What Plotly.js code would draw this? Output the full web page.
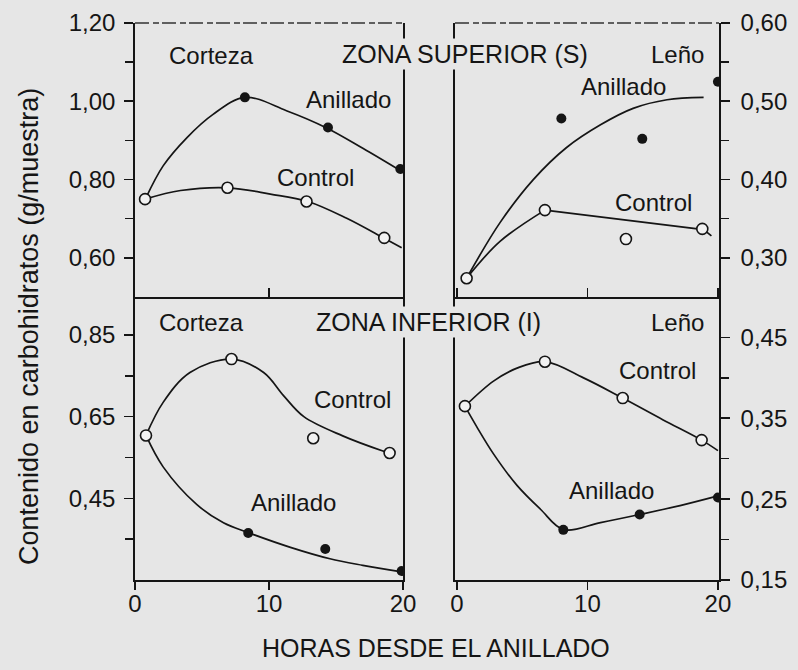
<!DOCTYPE html>
<html>
<head>
<meta charset="utf-8">
<script src="https://cdn.plot.ly/plotly-3.0.1.min.js"></script>
<style>html,body{margin:0;padding:0;background:#e6e6e6;}#chart{width:798px;height:670px;}</style>
</head>
<body>
<div id="chart"></div>
<script>
// ---------- DATA ----------
// Zona superior, Corteza (left axis, g/muestra)
const supCortezaAnilladoHoras = [0.75, 8.2, 14.4, 19.8];
const supCortezaAnilladoValor = [0.75, 1.01, 0.933, 0.827];
const supCortezaAnilladoCurvaHoras = [0.8, 2.1, 3.9, 5.8, 8.2, 11.3, 14.3, 17.0, 19.8];
const supCortezaAnilladoCurvaValor = [0.752, 0.835, 0.908, 0.966, 1.01, 0.976, 0.932, 0.88, 0.823];
const supCortezaControlHoras = [0.75, 6.9, 12.8, 18.6];
const supCortezaControlValor = [0.75, 0.779, 0.744, 0.651];
const supCortezaControlCurvaHoras = [0.75, 3.4, 6.96, 10.1, 12.9, 15.8, 18.7, 19.9];
const supCortezaControlCurvaValor = [0.75, 0.772, 0.779, 0.763, 0.744, 0.701, 0.648, 0.626];

// Zona superior, Leño (right axis)
const supLenoAnilladoHoras = [0.74, 8.0, 14.2, 20.0];
const supLenoAnilladoValor = [0.274, 0.478, 0.452, 0.525];
const supLenoAnilladoCurvaHoras = [0.74, 3.3, 5.85, 8.4, 11.0, 13.5, 16.1, 18.9];
const supLenoAnilladoCurvaValor = [0.274, 0.345, 0.40, 0.441, 0.47, 0.491, 0.502, 0.505];
const supLenoControlHoras = [0.74, 6.74, 12.95, 18.8];
const supLenoControlValor = [0.274, 0.361, 0.324, 0.337];
const supLenoControlCurvaHoras = [0.74, 3.3, 6.74];
const supLenoControlCurvaValor = [0.274, 0.321, 0.361];
const supLenoControlRectaHoras = [6.74, 12.75, 18.9, 19.5];
const supLenoControlRectaValor = [0.361, 0.349, 0.336, 0.328];

// Zona inferior, Corteza (left axis)
const infCortezaControlHoras = [0.82, 7.2, 13.3, 19.0];
const infCortezaControlValor = [0.604, 0.791, 0.597, 0.561];
const infCortezaControlCurvaHoras = [0.82, 2.1, 4.1, 7.2, 9.6, 11.1, 12.6, 15.5, 18.5, 19.0];
const infCortezaControlCurvaValor = [0.604, 0.685, 0.758, 0.791, 0.758, 0.701, 0.65, 0.603, 0.566, 0.561];
const infCortezaAnilladoHoras = [0.82, 8.45, 14.2, 19.9];
const infCortezaAnilladoValor = [0.604, 0.365, 0.326, 0.272];
const infCortezaAnilladoCurvaHoras = [0.82, 2.1, 4.6, 6.6, 8.45, 11.6, 14.55, 17.0, 19.9];
const infCortezaAnilladoCurvaValor = [0.604, 0.527, 0.435, 0.39, 0.366, 0.33, 0.302, 0.286, 0.27];

// Zona inferior, Leño (right axis)
const infLenoControlHoras = [0.61, 6.74, 12.7, 18.75];
const infLenoControlValor = [0.365, 0.42, 0.375, 0.323];
const infLenoControlCurvaHoras = [0.61, 2.8, 4.6, 6.74, 9.7, 12.7, 15.8, 18.75, 20.0];
const infLenoControlCurvaValor = [0.365, 0.396, 0.412, 0.42, 0.40, 0.375, 0.348, 0.323, 0.31];
const infLenoAnilladoHoras = [0.61, 8.15, 14.0, 20.0];
const infLenoAnilladoValor = [0.365, 0.212, 0.231, 0.252];
const infLenoAnilladoCurvaHoras = [0.61, 1.5, 2.8, 4.6, 6.4, 8.15, 11.0, 14.0, 17.1, 20.0];
const infLenoAnilladoCurvaValor = [0.365, 0.34, 0.306, 0.267, 0.2375, 0.2125, 0.221, 0.231, 0.242, 0.254];

// Tick labels
const horasTicks = [0, 10, 20];
const supIzqTicks = [0.60, 0.80, 1.00, 1.20];
const supIzqMinor = [0.70, 0.90, 1.10];
const supDerTicks = [0.30, 0.40, 0.50, 0.60];
const supDerMinor = [0.35, 0.45, 0.55];
const infIzqTicks = [0.45, 0.65, 0.85];
const infIzqMinor = [0.35, 0.55, 0.75];
const infDerTicks = [0.15, 0.25, 0.35, 0.45];
const infDerMinor = [0.20, 0.30, 0.40];

// ---------- STYLE ----------
const W = 798, H = 670;
const fx = p => p / W;
const fy = p => 1 - p / H;
const BG = '#e6e6e6';
const INK = '#151515';
const FONT = 'Liberation Sans, Arial, sans-serif';

function curve(x, y, xa, ya, shape) {
  return {x: x, y: y, xaxis: xa, yaxis: ya, mode: 'lines', hoverinfo: 'skip',
    line: {color: INK, width: 1.7, shape: shape || 'spline', smoothing: 1}};
}
function filled(x, y, xa, ya) {
  return {x: x, y: y, xaxis: xa, yaxis: ya, mode: 'markers',
    marker: {color: INK, size: 10, line: {width: 0}}};
}
function open(x, y, xa, ya) {
  return {x: x, y: y, xaxis: xa, yaxis: ya, mode: 'markers',
    marker: {color: '#f2f2f2', size: 11, line: {color: INK, width: 1.6}}};
}

const data = [
  curve(supCortezaAnilladoCurvaHoras, supCortezaAnilladoCurvaValor, 'x', 'y'),
  curve(supCortezaControlCurvaHoras, supCortezaControlCurvaValor, 'x', 'y'),
  filled(supCortezaAnilladoHoras, supCortezaAnilladoValor, 'x', 'y'),
  open(supCortezaControlHoras, supCortezaControlValor, 'x', 'y'),

  curve(supLenoAnilladoCurvaHoras, supLenoAnilladoCurvaValor, 'x2', 'y2'),
  curve(supLenoControlCurvaHoras, supLenoControlCurvaValor, 'x2', 'y2'),
  curve(supLenoControlRectaHoras, supLenoControlRectaValor, 'x2', 'y2', 'linear'),
  filled(supLenoAnilladoHoras, supLenoAnilladoValor, 'x2', 'y2'),
  open(supLenoControlHoras, supLenoControlValor, 'x2', 'y2'),

  curve(infCortezaControlCurvaHoras, infCortezaControlCurvaValor, 'x3', 'y3'),
  curve(infCortezaAnilladoCurvaHoras, infCortezaAnilladoCurvaValor, 'x3', 'y3'),
  filled(infCortezaAnilladoHoras, infCortezaAnilladoValor, 'x3', 'y3'),
  open(infCortezaControlHoras, infCortezaControlValor, 'x3', 'y3'),

  curve(infLenoControlCurvaHoras, infLenoControlCurvaValor, 'x4', 'y4'),
  curve(infLenoAnilladoCurvaHoras, infLenoAnilladoCurvaValor, 'x4', 'y4'),
  filled(infLenoAnilladoHoras, infLenoAnilladoValor, 'x4', 'y4'),
  open(infLenoControlHoras, infLenoControlValor, 'x4', 'y4')
];

const axLine = {showline: true, linecolor: INK, linewidth: 1.8, showgrid: false, zeroline: false,
  tickcolor: INK, tickwidth: 1.6, tickfont: {family: FONT, size: 24, color: INK}, fixedrange: true};

function xTop(domain, range, anchor) {
  return Object.assign({}, axLine, {domain: domain, range: range, anchor: anchor,
    tickmode: 'array', tickvals: horasTicks, ticks: 'inside', ticklen: 9, showticklabels: false});
}
function xBottom(domain, range, anchor) {
  return Object.assign({}, axLine, {domain: domain, range: range, anchor: anchor,
    tickmode: 'array', tickvals: horasTicks, ticks: 'outside', ticklen: 8, ticklabelstandoff: -7});
}
function yAxis(domain, range, anchor, side, vals, minor) {
  return Object.assign({}, axLine, {domain: domain, range: range, anchor: anchor, side: side,
    mirror: true, tickmode: 'array', tickvals: vals, tickformat: '.2f', ticks: 'outside', ticklen: 9,
    ticklabelstandoff: side === 'left' ? 4 : 6,
    minor: {tickmode: 'array', tickvals: minor, ticks: 'outside', ticklen: 8, tickcolor: INK, tickwidth: 1.4, showgrid: false}});
}

const dxL = [fx(135), fx(403)], dxR = [fx(455), fx(719)];
const dyT = [fy(297), fy(23)], dyB = [fy(580), fy(297)];
const rxL = [0, 20], rxR = [-0.15, 20.08];

function note(text, px, py, size, extra) {
  return Object.assign({text: text, xref: 'paper', yref: 'paper', x: fx(px), y: fy(py),
    xanchor: 'center', yanchor: 'middle', showarrow: false,
    font: {family: FONT, size: size, color: INK}}, extra || {});
}

const layout = {
  width: W, height: H,
  margin: {l: 0, r: 0, t: 0, b: 0},
  paper_bgcolor: BG, plot_bgcolor: BG,
  showlegend: false,
  separators: ',.',
  font: {family: FONT, color: INK},
  xaxis: xTop(dxL, rxL, 'y'),
  yaxis: yAxis(dyT, [0.50, 1.20], 'x', 'left', supIzqTicks, supIzqMinor),
  xaxis2: xTop(dxR, rxR, 'y2'),
  yaxis2: yAxis(dyT, [0.25, 0.60], 'x2', 'right', supDerTicks, supDerMinor),
  xaxis3: xBottom(dxL, rxL, 'y3'),
  yaxis3: yAxis(dyB, [0.25, 0.943], 'x3', 'left', infIzqTicks, infIzqMinor),
  xaxis4: xBottom(dxR, rxR, 'y4'),
  yaxis4: yAxis(dyB, [0.15, 0.50], 'x4', 'right', infDerTicks, infDerMinor),
  shapes: [
    {type: 'line', xref: 'x domain', yref: 'y domain', x0: 0, x1: 1, y0: 1, y1: 1,
     line: {color: '#333', width: 1.6, dash: '14px,4px,6px,3px'}},
    {type: 'line', xref: 'x2 domain', yref: 'y2 domain', x0: 0, x1: 1, y0: 1, y1: 1,
     line: {color: '#333', width: 1.6, dash: '14px,4px,6px,3px'}}
  ],
  annotations: [
    note('Corteza', 211, 55, 24),
    note('ZONA SUPERIOR (S)', 465, 54, 25, {bgcolor: BG}),
    note('Leño', 677, 54, 24),
    note('Anillado', 348, 100, 24),
    note('Control', 315, 178, 24),
    note('Anillado', 623, 87, 24),
    note('Control', 653, 203, 24),
    note('Corteza', 201, 322, 24),
    note('ZONA INFERIOR (I)', 428, 322, 25, {bgcolor: BG}),
    note('Leño', 677, 322, 24),
    note('Control', 352, 400, 24),
    note('Anillado', 293, 502, 24),
    note('Control', 657, 370, 24),
    note('Anillado', 611, 490, 24),
    note('HORAS DESDE EL ANILLADO', 436, 648, 25),
    note('Contenido en carbohidratos (g/muestra)', 29, 327, 27, {textangle: -90})
  ]
};

Plotly.newPlot('chart', data, layout, {staticPlot: true, displayModeBar: false});
</script>
</body>
</html>
